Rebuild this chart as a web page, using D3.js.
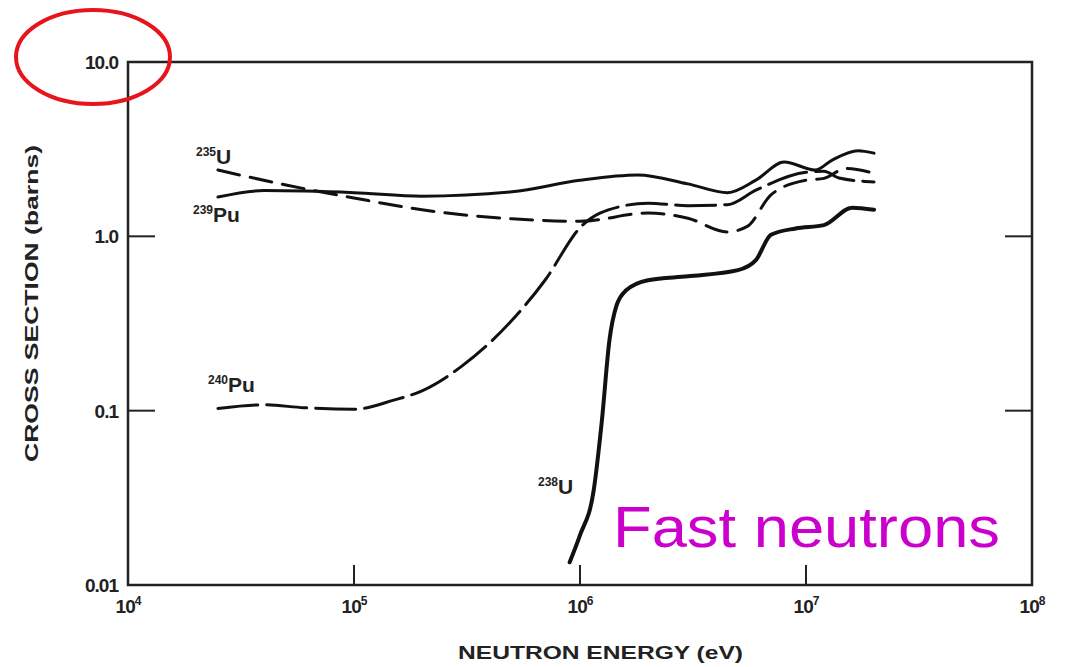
<!DOCTYPE html>
<html lang="en">
<head>
<meta charset="UTF-8">
<title>Cross sections - fast neutrons</title>
<script src="https://d3js.org/d3.v7.min.js"></script>
<style>
  body { margin: 0; background: #fff; }
  svg { display: block; }
  .tick-label { font-family: "Liberation Sans", Arial, sans-serif; font-weight: bold; font-size: 19px; fill: #222; letter-spacing: -1px; }
  .axis-title { font-family: "Liberation Sans", Arial, sans-serif; font-weight: bold; font-size: 18px; fill: #222; }
  .curve-label { font-family: "Liberation Sans", Arial, sans-serif; font-weight: bold; font-size: 21px; fill: #222; }
</style>
</head>
<body>
<div id="chart"></div>
<script>
// energies (eV) and cross sections (barns)
var u235E = [2.5e4, 5e4, 1e5, 2e5, 5e5, 1e6, 2e6, 3e6, 4.5e6, 5.5e6, 7e6, 1e7, 1.2e7, 1.5e7, 2e7];
var u235S = [2.4, 1.97, 1.66, 1.42, 1.26, 1.22, 1.36, 1.27, 1.06, 1.14, 1.73, 2.1, 2.15, 2.45, 2.3];

var pu239E = [2.5e4, 4e4, 1e5, 2e5, 5e5, 1e6, 1.8e6, 3e6, 4.5e6, 6e6, 8e6, 1.1e7, 1.3e7, 1.7e7, 2e7];
var pu239S = [1.68, 1.83, 1.78, 1.7, 1.8, 2.1, 2.25, 2.0, 1.78, 2.1, 2.67, 2.4, 2.73, 3.1, 3.0];

var pu240E = [2.5e4, 4e4, 6e4, 1e5, 1.5e5, 2e5, 3e5, 5e5, 7e5, 1e6, 1.5e6, 2e6, 3e6, 4.5e6, 6e6, 1e7, 1.2e7, 1.4e7, 2e7];
var pu240S = [0.103, 0.108, 0.104, 0.102, 0.115, 0.13, 0.18, 0.33, 0.56, 1.12, 1.48, 1.55, 1.5, 1.52, 1.84, 2.33, 2.36, 2.16, 2.05];

var u238E = [9e5, 1e6, 1.15e6, 1.25e6, 1.35e6, 1.45e6, 1.6e6, 2e6, 3e6, 5e6, 6e6, 7e6, 9e6, 1.2e7, 1.6e7, 2e7];
var u238S = [0.0135, 0.0193, 0.035, 0.088, 0.254, 0.40, 0.49, 0.56, 0.59, 0.64, 0.73, 1.02, 1.11, 1.16, 1.46, 1.42];

var xTicks = [1e4, 1e5, 1e6, 1e7, 1e8];
var xExps = ["4", "5", "6", "7", "8"];
var yTicks = [0.01, 0.1, 1, 10];
var yTickLabels = ["0.01", "0.1", "1.0", "10.0"];

function chart() {
    var w = 1072, h = 667;
    var mLeft = 128, mRight = 1032, mTop = 62, mBottom = 585;

    var svg = d3.select("#chart").append("svg")
        .attr("width", w)
        .attr("height", h);

    var x = d3.scaleLog().domain([1e4, 1e8]).range([mLeft, mRight]);
    var y = d3.scaleLog().domain([0.01, 10]).range([mBottom, mTop]);

    // frame
    svg.append("rect")
        .attr("x", mLeft).attr("y", mTop)
        .attr("width", mRight - mLeft).attr("height", mBottom - mTop)
        .attr("fill", "none").attr("stroke", "#222").attr("stroke-width", 2.5);

    // inward ticks
    var tickG = svg.append("g").attr("stroke", "#222").attr("stroke-width", 2);
    [1e5, 1e6, 1e7].forEach(function(v) {
        tickG.append("line")
            .attr("x1", x(v)).attr("x2", x(v))
            .attr("y1", mBottom).attr("y2", mBottom - 20);
    });
    [0.1, 1].forEach(function(v) {
        tickG.append("line")
            .attr("x1", mLeft).attr("x2", mLeft + 27)
            .attr("y1", y(v)).attr("y2", y(v));
        tickG.append("line")
            .attr("x1", mRight).attr("x2", mRight - 27)
            .attr("y1", y(v)).attr("y2", y(v));
    });

    // y tick labels
    svg.selectAll(".ylab").data(yTicks).enter().append("text")
        .attr("class", "tick-label")
        .attr("x", mLeft - 10)
        .attr("y", function(d) { return y(d) + 7; })
        .attr("text-anchor", "end")
        .text(function(d, i) { return yTickLabels[i]; });

    // x tick labels (10 with superscript)
    xTicks.forEach(function(v, i) {
        var t = svg.append("text")
            .attr("class", "tick-label")
            .attr("x", x(v))
            .attr("y", mBottom + 28)
            .attr("text-anchor", "middle");
        t.append("tspan").text("10");
        t.append("tspan").attr("dy", -8).attr("font-size", 12).text(xExps[i]);
    });

    // axis titles
    svg.append("text")
        .attr("class", "axis-title")
        .attr("x", 458).attr("y", 659)
        .attr("textLength", 285).attr("lengthAdjust", "spacingAndGlyphs")
        .text("NEUTRON ENERGY (eV)");

    svg.append("text")
        .attr("class", "axis-title")
        .attr("transform", "translate(38,462) rotate(-90)")
        .attr("textLength", 317).attr("lengthAdjust", "spacingAndGlyphs")
        .text("CROSS SECTION (barns)");

    // curves
    var line = d3.line()
        .x(function(d) { return x(d[0]); })
        .y(function(d) { return y(d[1]); })
        .curve(d3.curveMonotoneX);

    function draw(E, S, dash, width) {
        svg.append("path")
            .datum(d3.zip(E, S))
            .attr("d", line)
            .attr("fill", "none")
            .attr("stroke", "#111")
            .attr("stroke-width", width)
            .attr("stroke-linecap", "round")
            .attr("stroke-dasharray", dash);
    }

    draw(pu239E, pu239S, null, 3);
    draw(u235E, u235S, "22,11", 3);
    draw(pu240E, pu240S, "40,9", 3);
    draw(u238E, u238S, null, 4);

    // curve labels with superscript mass numbers
    function label(px, py, mass, sym) {
        var t = svg.append("text").attr("class", "curve-label")
            .attr("x", px).attr("y", py);
        t.append("tspan").attr("font-size", 12).attr("dy", -8).text(mass);
        t.append("tspan").attr("dy", 8).text(sym);
    }
    label(196, 164, "235", "U");
    label(193, 222, "239", "Pu");
    label(208, 392, "240", "Pu");
    label(538, 494, "238", "U");

    // annotation
    svg.append("text")
        .attr("x", 613).attr("y", 547)
        .attr("font-family", "Liberation Sans, Arial, sans-serif")
        .attr("font-size", 58)
        .attr("fill", "#cc00cc")
        .attr("textLength", 387).attr("lengthAdjust", "spacingAndGlyphs")
        .text("Fast neutrons");

    svg.append("ellipse")
        .attr("cx", 93).attr("cy", 57)
        .attr("rx", 77).attr("ry", 47)
        .attr("fill", "none")
        .attr("stroke", "#e8141b")
        .attr("stroke-width", 4);
}

chart();
</script>
</body>
</html>
